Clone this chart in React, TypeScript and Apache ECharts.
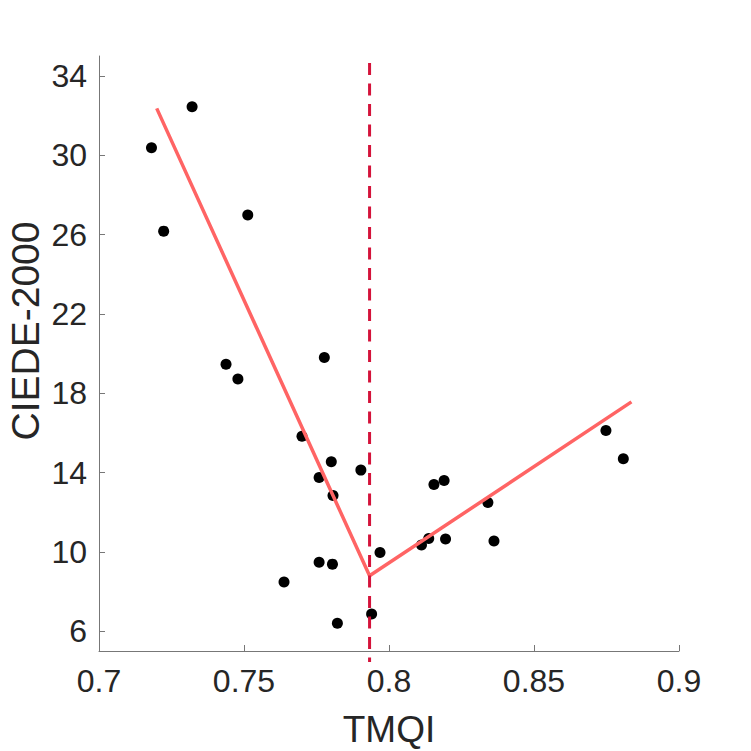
import React, { useEffect, useRef } from "react";
import * as echarts from "echarts";

const tmqi = [0.7181, 0.7223, 0.7321, 0.7513, 0.7438, 0.7479, 0.7777, 0.77, 0.7801, 0.7759, 0.7807, 0.7903, 0.7759, 0.7805, 0.7638, 0.7822, 0.794, 0.7969, 0.8112, 0.8137, 0.8195, 0.8155, 0.819, 0.8341, 0.8362, 0.8748, 0.8808];
const ciede = [30.37, 26.17, 32.44, 26.98, 19.46, 18.71, 19.8, 15.83, 14.54, 13.75, 12.84, 14.12, 9.48, 9.38, 8.48, 6.4, 6.86, 9.97, 10.34, 10.67, 10.65, 13.4, 13.6, 12.49, 10.55, 16.12, 14.69];

const fitX = [0.7199, 0.7933, 0.8836];
const fitY = [32.36, 8.79, 17.56];

const breakX = 0.7933;
const breakYRange = [34.65, 4.45];

const yTicks = [6, 10, 14, 18, 22, 26, 30, 34];
const xName = "TMQI";
const yName = "CIEDE-2000";

const FONT = "'Liberation Sans', Arial, Helvetica, sans-serif";

export default function App() {
  const ref = useRef<HTMLDivElement>(null);
  useEffect(() => {
    if (!ref.current) return;
    const chart = echarts.init(ref.current, undefined, { renderer: "svg" });
    const axisColor = "#777777";
    chart.setOption({
      animation: false,
      backgroundColor: "#ffffff",
      grid: { left: 99, right: 72, top: 56, bottom: 100, containLabel: false },
      xAxis: {
        type: "value",
        min: 0.7,
        max: 0.9,
        interval: 0.05,
        splitLine: { show: false },
        axisLine: { show: true, lineStyle: { color: axisColor, width: 1 } },
        axisTick: { show: true, inside: true, length: 6, lineStyle: { color: axisColor } },
        axisLabel: { color: "#262626", fontSize: 32, fontFamily: FONT, margin: 14 },
      },
      yAxis: {
        type: "value",
        min: 5,
        max: 35,
        splitLine: { show: false },
        axisLine: { show: true, lineStyle: { color: axisColor, width: 1 } },
        axisTick: { show: true, inside: true, length: 6, customValues: yTicks, lineStyle: { color: axisColor } },
        axisLabel: { color: "#262626", fontSize: 32, fontFamily: FONT, margin: 12, customValues: yTicks },
      },
      graphic: [
        {
          type: "text",
          x: 389,
          y: 729,
          style: { text: xName, font: `37px ${FONT}`, fill: "#262626", textAlign: "center", textVerticalAlign: "middle" },
        },
        {
          type: "text",
          x: 25,
          y: 331,
          rotation: Math.PI / 2,
          style: { text: yName, font: `39px ${FONT}`, fill: "#262626", textAlign: "center", textVerticalAlign: "middle" },
        },
      ],
      series: [
        {
          type: "scatter",
          data: tmqi.map((x, i) => [x, ciede[i]]),
          symbol: "circle",
          symbolSize: 11,
          itemStyle: { color: "#000000", opacity: 1 },
          z: 2,
        },
        {
          type: "line",
          data: fitX.map((x, i) => [x, fitY[i]]),
          symbol: "none",
          lineStyle: { color: "#ff6464", width: 3.5, opacity: 1 },
          z: 3,
        },
        {
          type: "line",
          data: breakYRange.map((y) => [breakX, y]),
          symbol: "none",
          clip: false,
          lineStyle: { color: "#d4133a", width: 3, type: [12, 8.5], opacity: 1 },
          z: 4,
        },
      ],
    });
    return () => chart.dispose();
  }, []);
  return <div ref={ref} style={{ position: "fixed", left: 0, top: 0, width: 751, height: 751 }} />;
}
